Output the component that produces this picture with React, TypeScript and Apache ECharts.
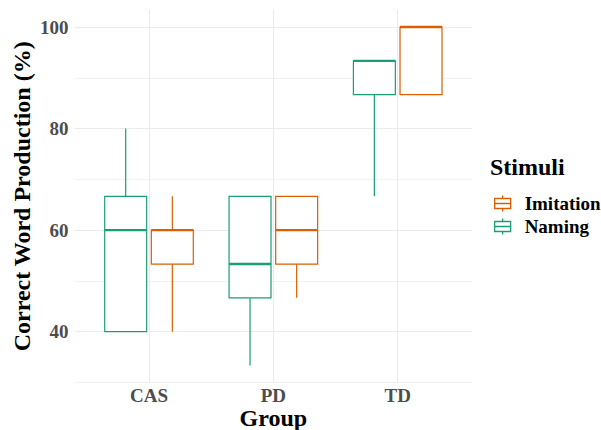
import React, { useEffect, useRef } from "react";
import * as echarts from "echarts";

const categories = ["CAS", "PD", "TD"];
// [min, q1, median, q3, max]
const namingStats = [
  [40, 40, 60, 66.67, 80],
  [33.33, 46.67, 53.33, 66.67, 66.67],
  [66.67, 86.67, 93.33, 93.33, 93.33],
];
const imitationStats = [
  [40, 53.33, 60, 60, 66.67],
  [46.67, 53.33, 60, 66.67, 66.67],
  [86.67, 86.67, 100, 100, 100],
];
const yTickLabels = [40, 60, 80, 100];

const FONT = "'Liberation Serif', 'Times New Roman', serif";
const GREEN = "#1b9e77";
const ORANGE = "#d95f02";

function makeRender(offset: number, color: string) {
  return (params: any, api: any) => {
    const x = api.value(0) + offset;
    const halfW = 0.16875;
    const vMin = api.value(1), vQ1 = api.value(2), vMed = api.value(3), vQ3 = api.value(4), vMax = api.value(5);
    const pMin = api.coord([x, vMin]);
    const pQ1 = api.coord([x, vQ1]);
    const pMed = api.coord([x, vMed]);
    const pQ3 = api.coord([x, vQ3]);
    const pMax = api.coord([x, vMax]);
    const left = api.coord([x - halfW, vQ1])[0];
    const right = api.coord([x + halfW, vQ1])[0];
    const children: any[] = [];
    if (pMax[1] < pQ3[1] - 0.5) {
      children.push({ type: "line", shape: { x1: pQ3[0], y1: pQ3[1], x2: pMax[0], y2: pMax[1] }, style: { stroke: color, lineWidth: 1.2 } });
    }
    if (pMin[1] > pQ1[1] + 0.5) {
      children.push({ type: "line", shape: { x1: pQ1[0], y1: pQ1[1], x2: pMin[0], y2: pMin[1] }, style: { stroke: color, lineWidth: 1.2 } });
    }
    children.push({
      type: "rect",
      shape: { x: left, y: pQ3[1], width: right - left, height: pQ1[1] - pQ3[1] },
      style: { fill: "#ffffff", stroke: color, lineWidth: 1.2 },
    });
    children.push({ type: "line", shape: { x1: left, y1: pMed[1], x2: right, y2: pMed[1] }, style: { stroke: color, lineWidth: 2.4 } });
    return { type: "group", children };
  };
}

export default function App() {
  const ref = useRef<HTMLDivElement>(null);
  useEffect(() => {
    if (!ref.current) return;
    const chart = echarts.init(ref.current, undefined, { renderer: "svg" });
    const xSplitColors: string[] = [];
    for (let i = 0; i < 17; i++) xSplitColors.push(i === 3 || i === 8 || i === 13 ? "#ebebeb" : "rgba(0,0,0,0)");
    const ySplitColors = ["#f2f2f2", "#ebebeb", "#f2f2f2", "#ebebeb", "#f2f2f2", "#ebebeb", "#f2f2f2", "#ebebeb", "rgba(0,0,0,0)"];
    chart.setOption({
      animation: false,
      backgroundColor: "#ffffff",
      title: {
        text: "Stimuli",
        left: 490,
        top: 155,
        padding: 0,
        textStyle: { fontFamily: FONT, fontWeight: "bold", fontSize: 24, color: "#000" },
      },
      legend: {
        orient: "vertical",
        left: 494,
        top: 194,
        padding: 0,
        itemWidth: 16,
        itemHeight: 16,
        itemGap: 4,
        selectedMode: false,
        icon: "path://M8,0L8,3M0,3L16,3L16,13L0,13ZM0,8L16,8M8,13L8,16",
        textStyle: { fontFamily: FONT, fontWeight: "bold", fontSize: 19, color: "#000", padding: [0, 0, 0, 9] },
        data: [
          { name: "Imitation", itemStyle: { color: "rgba(0,0,0,0)", borderColor: ORANGE, borderWidth: 1.3 } },
          { name: "Naming", itemStyle: { color: "rgba(0,0,0,0)", borderColor: GREEN, borderWidth: 1.3 } },
        ],
      },
      grid: { left: 74.4, top: 10.1, width: 397.9, height: 372.4, containLabel: false, outerBoundsMode: "none" },
      xAxis: {
        type: "value",
        min: 0.4,
        max: 3.6,
        interval: 0.2,
        name: "Group",
        nameLocation: "middle",
        nameGap: 23,
        nameMoveOverlap: false,
        nameTextStyle: { fontFamily: FONT, fontWeight: "bold", fontSize: 24, color: "#000" },
        axisLine: { show: false },
        axisTick: { show: false },
        splitLine: { show: true, lineStyle: { color: xSplitColors, width: 1 } },
        axisLabel: {
          margin: 3,
          fontFamily: FONT,
          fontWeight: "bold",
          fontSize: 19,
          color: "#4d4d4d",
          formatter: (v: number) => {
            const r = Math.round(v);
            if (Math.abs(v - r) < 1e-6 && r >= 1 && r <= categories.length) return categories[r - 1];
            return "";
          },
        },
      },
      yAxis: {
        type: "value",
        min: 30,
        max: 103.333,
        interval: 10,
        name: "Correct Word Production (%)",
        nameLocation: "middle",
        nameGap: 40,
        nameMoveOverlap: false,
        nameRotate: 90,
        nameTextStyle: { fontFamily: FONT, fontWeight: "bold", fontSize: 24, color: "#000" },
        axisLine: { show: false },
        axisTick: { show: false },
        splitLine: { show: true, lineStyle: { color: ySplitColors, width: 1 } },
        axisLabel: {
          margin: 6,
          fontFamily: FONT,
          fontWeight: "bold",
          fontSize: 19,
          color: "#4d4d4d",
          formatter: (v: number) => (yTickLabels.indexOf(Math.round(v * 1000) / 1000) >= 0 ? String(v) : ""),
        },
      },
      series: [
        {
          name: "Naming",
          type: "custom",
          color: GREEN,
          renderItem: makeRender(-0.1875, GREEN),
          encode: { x: 0, y: [1, 2, 3, 4, 5] },
          data: namingStats.map((s, i) => [i + 1, ...s]),
        },
        {
          name: "Imitation",
          type: "custom",
          color: ORANGE,
          renderItem: makeRender(0.1875, ORANGE),
          encode: { x: 0, y: [1, 2, 3, 4, 5] },
          data: imitationStats.map((s, i) => [i + 1, ...s]),
        },
      ],
    });
    return () => chart.dispose();
  }, []);
  return <div ref={ref} style={{ position: "fixed", left: 0, top: 0, width: 601, height: 430 }} />;
}
